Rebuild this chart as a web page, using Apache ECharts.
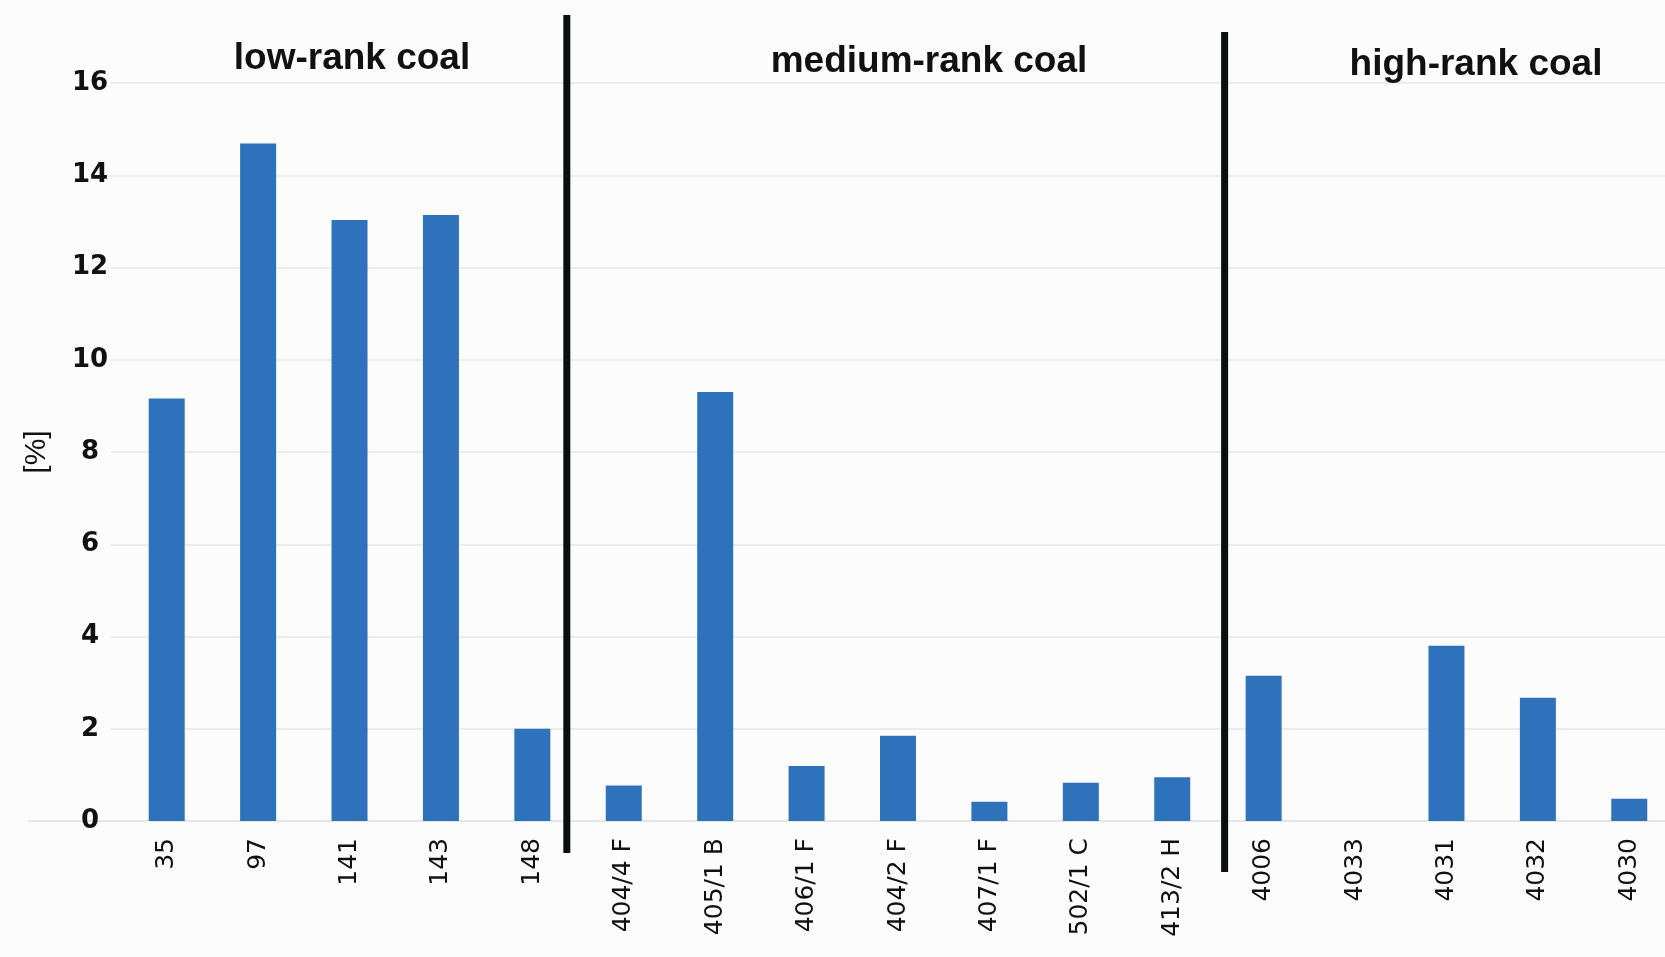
<!DOCTYPE html>
<html><head><meta charset="utf-8">
<script src="https://cdn.jsdelivr.net/npm/echarts@6/dist/echarts.min.js"></script>
<style>html,body{margin:0;padding:0;background:#fcfcfc;overflow:hidden}#c{width:1675px;height:957px}</style>
</head><body><div id="c"></div>
<script>
const categories = ['35','97','141','143','148','404/4 F','405/1 B','406/1 F','404/2 F','407/1 F','502/1 C','413/2 H','4006','4033','4031','4032','4030'];
const values = [9.16,14.69,13.03,13.14,2.0,0.77,9.3,1.19,1.85,0.42,0.83,0.95,3.15,0,3.8,2.67,0.48];
const groupTitles = ['low-rank coal','medium-rank coal','high-rank coal'];
const yMin = 0, yMax = 16, yStep = 2;

const chart = echarts.init(document.getElementById('c'), null, {renderer:'canvas'});
const TOP = 83, BOTTOM = 136;
const yBase = {min:yMin, max:yMax, interval:yStep};
chart.setOption({
  backgroundColor:'#fcfcfc',
  animation:false,
  grid:[
    {left:111, right:10, top:TOP, bottom:BOTTOM},
    {left:121, right:0, top:TOP, bottom:BOTTOM},
    {left:29, right:10, top:TOP, bottom:BOTTOM}
  ],
  xAxis:[
    {type:'value', gridIndex:0, show:false},
    {type:'category', gridIndex:1, data:categories,
     axisLine:{show:false}, axisTick:{show:false},
     axisLabel:{rotate:90, margin:17, interval:0, color:'#111', fontFamily:'DejaVu Sans', fontSize:25}},
    {type:'value', gridIndex:2, axisLine:{show:true, onZero:false, lineStyle:{color:'#e6e6e6', width:2}},
     axisLabel:{show:false}, axisTick:{show:false}, splitLine:{show:false}}
  ],
  yAxis:[
    Object.assign({type:'value', gridIndex:0,
      name:'[%]', nameLocation:'middle', nameRotate:90, nameGap:59,
      nameTextStyle:{color:'#111', fontFamily:'Liberation Sans', fontSize:30},
      axisLine:{show:false}, axisTick:{show:false},
      axisLabel:{align:'center', margin:21, color:'#111', fontFamily:'DejaVu Sans', fontWeight:'bold', fontSize:26},
      splitLine:{show:true, lineStyle:{color:'#ececec', width:2}}}, yBase),
    Object.assign({type:'value', gridIndex:1, show:false, splitLine:{show:false}}, yBase),
    Object.assign({type:'value', gridIndex:2, show:false, splitLine:{show:false}}, yBase)
  ],
  series:[{
    type:'bar', xAxisIndex:1, yAxisIndex:1, data:values, barWidth:36,
    itemStyle:{color:'#2f72bc'}
  }]
});

const px = i => chart.convertToPixel({xAxisIndex:1}, i);
const between = (i, f) => px(i) + f * (px(i+1) - px(i));
const sep1 = between(4, 0.377), sep2 = between(11, 0.573);
const titleFont = 'bold 37px "Liberation Sans", Arial, sans-serif';
chart.setOption({
  graphic:[
    {type:'line', shape:{x1:sep1, y1:15, x2:sep1, y2:853}, style:{stroke:'#0d0f0e', lineWidth:7}, z:10},
    {type:'line', shape:{x1:sep2, y1:32, x2:sep2, y2:872}, style:{stroke:'#0d0f0e', lineWidth:7}, z:10},
    {type:'text', x:352, y:59, style:{text:groupTitles[0], font:titleFont, fill:'#111', textAlign:'center', textVerticalAlign:'middle'}},
    {type:'text', x:929, y:62, style:{text:groupTitles[1], font:titleFont, fill:'#111', textAlign:'center', textVerticalAlign:'middle'}},
    {type:'text', x:1476, y:65, style:{text:groupTitles[2], font:titleFont, fill:'#111', textAlign:'center', textVerticalAlign:'middle'}}
  ]
});
</script></body></html>
